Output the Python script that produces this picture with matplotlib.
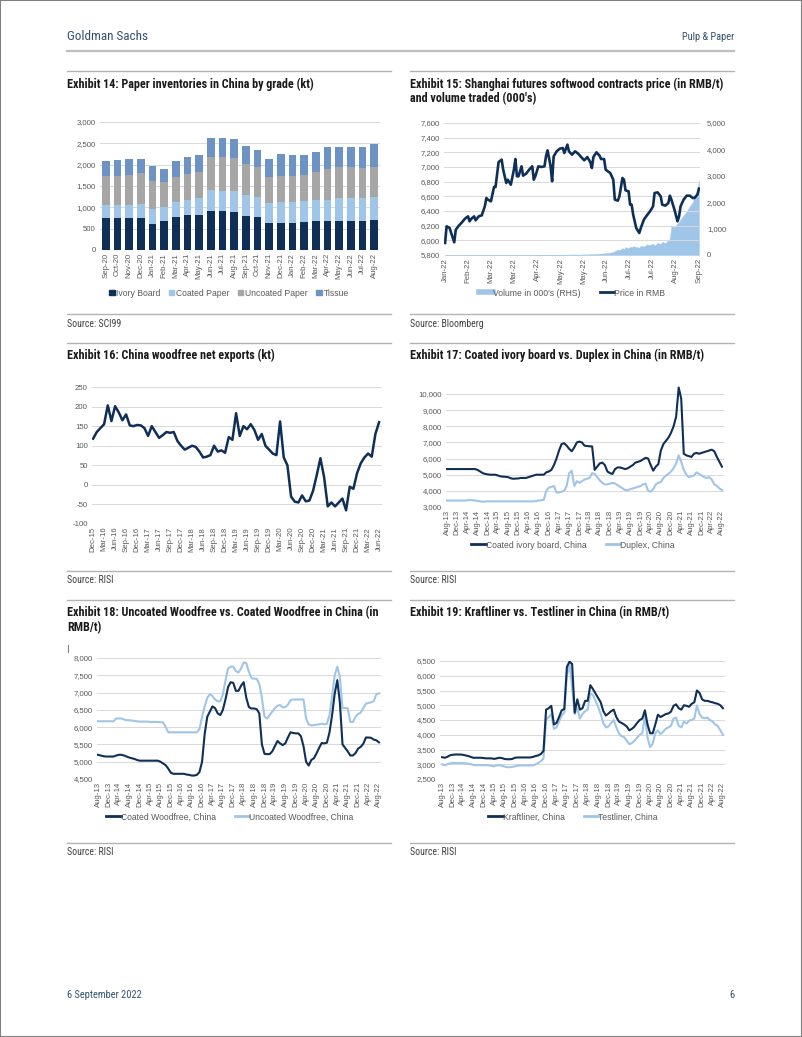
import matplotlib
matplotlib.use('Agg')
import matplotlib.pyplot as plt
from matplotlib.lines import Line2D
from matplotlib.patches import Patch, Rectangle

# ---------------- DATA ----------------
# Exhibit 14 (kt), Sep-20 .. Aug-22
ex14_months = ['Sep-20', 'Oct-20', 'Nov-20', 'Dec-20', 'Jan-21', 'Feb-21', 'Mar-21', 'Apr-21',
               'May-21', 'Jun-21', 'Jul-21', 'Aug-21', 'Sep-21', 'Oct-21', 'Nov-21', 'Dec-21',
               'Jan-22', 'Feb-22', 'Mar-22', 'Apr-22', 'May-22', 'Jun-22', 'Jul-22', 'Aug-22']
ivory_board = [746, 746, 746, 746, 620, 690, 785, 816, 816, 918, 903, 879,
               800, 777, 644, 628, 644, 659, 690, 675, 690, 683, 690, 706]
coated_paper = [314, 314, 314, 329, 338, 307, 338, 362, 401, 495, 486, 495,
                487, 455, 455, 487, 471, 495, 488, 503, 527, 534, 527, 534]
uncoated_paper = [667, 683, 698, 730, 667, 589, 588, 596, 612, 769, 785, 785,
                  738, 707, 612, 628, 628, 604, 643, 722, 738, 722, 706, 707]
tissue = [369, 361, 377, 338, 337, 306, 385, 408, 408, 448, 440, 439,
          416, 400, 424, 502, 479, 464, 479, 510, 455, 479, 487, 534]

# Exhibit 15: trading-day index, price (RMB/t), volume (000's)
ex15_labels = ['Jan-22', 'Feb-22', 'Mar-22', 'Mar-22', 'Apr-22', 'May-22',
               'May-22', 'Jun-22', 'Jul-22', 'Jul-22', 'Aug-22', 'Sep-22']
ex15_day = [0, 1, 3, 4, 6, 7, 9, 11, 13, 15, 16, 17, 19, 20, 22, 24, 26, 27, 28, 30,
            32, 33, 35, 37, 38, 40, 41, 43, 45, 46, 47, 48, 50, 51, 53, 55, 57, 58, 59, 61,
            63, 65, 66, 67, 68, 69, 70, 71, 73, 75, 77, 78, 80, 81, 83, 85, 87, 89, 91, 93,
            95, 96, 97, 99, 101, 102, 104, 105, 108, 110, 111, 113, 114, 116, 117, 118, 120, 121, 122, 123,
            125, 127, 128, 130, 132, 134, 136, 137, 139, 141, 142, 144, 146, 147, 148, 150, 152, 153, 154, 156,
            158, 160, 162, 163, 165, 166]
ex15_price = [5964, 6191, 6168, 6100, 5973, 6145, 6200, 6245, 6295, 6327,
              6259, 6290, 6327, 6273, 6327, 6341, 6464, 6577, 6555, 6532,
              6727, 6727, 7068, 7100, 6964, 6782, 6827, 6759, 6964, 7109,
              6873, 6873, 7009, 6882, 6909, 6964, 7009, 6827, 6873, 7009,
              7000, 7009, 7145, 7227, 7123, 7009, 6805, 7145, 7214, 7250,
              7259, 7191, 7305, 7214, 7168, 7214, 7182, 7136, 7091, 7136,
              7064, 6986, 7136, 7200, 7155, 7109, 7109, 6964, 6918, 6827,
              6555, 6541, 6600, 6850, 6827, 6682, 6668, 6486, 6486, 6350,
              6168, 6100, 6168, 6282, 6341, 6395, 6464, 6645, 6654, 6600,
              6486, 6473, 6509, 6609, 6555, 6418, 6259, 6327, 6464, 6555,
              6609, 6609, 6577, 6577, 6623, 6705]
ex15_volume = [0, 0, 0, 0, 0, 0, 0, 0, 0, 0,
               0, 0, 0, 0, 0, 0, 0, 0, 0, 0,
               0, 0, 0, 0, 0, 0, 0, 0, 0, 0,
               0, 0, 2, 0, 2, 0, 3, 0, 3, 4,
               5, 5, 8, 5, 8, 10, 8, 10, 12, 10,
               15, 12, 15, 15, 18, 20, 15, 20, 25, 20,
               30, 25, 35, 40, 45, 50, 60, 70, 90, 110,
               150, 200, 180, 260, 220, 300, 250, 320, 280, 330,
               300, 280, 350, 320, 400, 380, 430, 350, 460, 420,
               500, 450, 560, 620, 1100, 1050, 1200, 1250, 1350, 1500,
               1650, 1850, 2000, 2200, 2400, 2850]

# Exhibit 16: China woodfree net exports (kt), monthly Dec-15 .. Jun-22
ex16_net_exports = [118,
                    135, 145, 155, 203, 163, 201, 185, 165, 180, 152, 150, 153,
                    152, 145, 125, 150, 135, 120, 127, 135, 133, 135, 112, 100,
                    90, 95, 100, 97, 85, 70, 72, 76, 100, 85, 88, 82,
                    122, 115, 183, 125, 150, 142, 155, 140, 115, 130, 100, 90,
                    80, 76, 162, 70, 50, -30, -43, -45, -27, -42, -40, -15,
                    25, 68, 20, -55, -45, -55, -45, -35, -65, -5, -10, 30,
                    55, 70, 80, 72, 130, 160]

# Exhibit 17: RMB/t, monthly Aug-13 .. Aug-22
coated_ivory = [5350, 5350, 5350, 5350, 5350,
                5350, 5350, 5350, 5350, 5350, 5350, 5350, 5300, 5200, 5100, 5050, 5020,
                5000, 5000, 5000, 4950, 4900, 4880, 4870, 4850, 4780, 4750, 4760, 4770,
                4800, 4800, 4800, 4850, 4900, 4950, 5000, 5000, 5000, 5000, 5150, 5200,
                5300, 5600, 6000, 6500, 6900, 6950, 6800, 6600, 6450, 6700, 7000, 7050,
                7000, 6800, 6780, 6760, 6750, 5300, 5500, 5700, 5750, 5600, 5200, 5100,
                5050, 5350, 5450, 5450, 5400, 5350, 5400, 5500, 5600, 5750, 5800, 5850,
                5950, 6050, 6000, 5600, 5250, 5500, 5650, 6500, 6900, 7100, 7300, 7600,
                8000, 8600, 10400, 9700, 6300, 6200, 6150, 6100, 6300, 6350, 6300, 6350,
                6400, 6450, 6500, 6550, 6450, 6100, 5800, 5500]
duplex = [3400, 3400, 3400, 3400, 3400,
          3400, 3400, 3400, 3420, 3430, 3420, 3400, 3380, 3350, 3330, 3340, 3350,
          3350, 3350, 3350, 3350, 3350, 3350, 3350, 3350, 3350, 3350, 3350, 3350,
          3350, 3350, 3350, 3350, 3350, 3350, 3370, 3400, 3420, 3450, 4000, 4200,
          4250, 4300, 3900, 3900, 3950, 4000, 4300, 5100, 5250, 4300, 4600, 4500,
          4600, 4700, 4750, 4800, 5100, 5050, 4850, 4650, 4500, 4400, 4400, 4450,
          4500, 4450, 4350, 4250, 4150, 4050, 4050, 4100, 4150, 4200, 4250, 4300,
          4400, 4450, 4000, 3950, 4100, 4400, 4500, 4550, 4800, 4950, 5050, 5200,
          5400, 5700, 6200, 5800, 5300, 5000, 4850, 4900, 4950, 5150, 5050, 4950,
          4850, 4800, 4850, 4700, 4400, 4300, 4150, 4050]

# Exhibit 18: RMB/t, monthly Aug-13 .. Aug-22
coated_woodfree = [5200, 5180, 5160, 5150, 5150,
                   5150, 5150, 5180, 5200, 5200, 5180, 5150, 5120, 5100, 5080, 5050, 5030,
                   5030, 5030, 5030, 5030, 5030, 5030, 5030, 5000, 4950, 4900, 4800, 4680,
                   4650, 4650, 4650, 4650, 4650, 4630, 4620, 4600, 4600, 4620, 4700, 5000,
                   5800, 6300, 6450, 6600, 6550, 6400, 6350, 6500, 6800, 7160, 7300, 7280,
                   7050, 7050, 7200, 7300, 6850, 6580, 6540, 6540, 6520, 6400, 5500, 5230,
                   5220, 5220, 5300, 5450, 5600, 5530, 5480, 5530, 5700, 5850, 5830, 5820,
                   5820, 5740, 5450, 5000, 4890, 5050, 5100, 5240, 5400, 5540, 5530, 5550,
                   5850, 6350, 6970, 7360, 6700, 5500, 5400, 5300, 5180, 5180, 5250, 5380,
                   5430, 5520, 5700, 5700, 5690, 5640, 5620, 5560]
uncoated_woodfree = [6170, 6170, 6170, 6170, 6170,
                     6170, 6170, 6250, 6250, 6250, 6220, 6200, 6200, 6190, 6180, 6170, 6160,
                     6160, 6160, 6160, 6150, 6150, 6150, 6150, 6140, 6140, 6000, 5850, 5850,
                     5850, 5850, 5850, 5850, 5850, 5850, 5850, 5850, 5850, 5850, 5950, 6300,
                     6600, 6850, 6950, 6900, 6800, 6750, 6750, 6950, 7350, 7700, 7750, 7750,
                     7620, 7580, 7700, 7870, 7850, 7600, 7420, 7400, 7400, 7250, 6850, 6300,
                     6250, 6350, 6450, 6550, 6620, 6640, 6570, 6580, 6650, 6780, 6800, 6800,
                     6800, 6800, 6800, 6250, 6080, 6050, 6060, 6070, 6080, 6100, 6080, 6100,
                     6350, 6900, 7500, 7750, 7450, 6550, 6550, 6550, 6150, 6150, 6300, 6380,
                     6420, 6550, 6680, 6700, 6720, 6750, 6950, 6980]

# Exhibit 19: RMB/t, monthly Aug-13 .. Aug-22
kraftliner = [3240, 3220, 3250, 3300, 3320,
              3330, 3330, 3330, 3320, 3300, 3280, 3250, 3220, 3220, 3220, 3220, 3210,
              3200, 3200, 3200, 3180, 3200, 3220, 3210, 3180, 3170, 3170, 3180, 3220,
              3230, 3230, 3230, 3230, 3230, 3230, 3250, 3280, 3300, 3350, 3450, 4850,
              4900, 4980, 4350, 4400, 4600, 4830, 4870, 6300, 6480, 6400, 4750, 5200,
              4850, 4900, 5150, 5150, 5680, 5550, 5400, 5250, 5100, 4800, 4650, 4720,
              4800, 4850, 4600, 4450, 4400, 4350, 4280, 4150, 4200, 4280, 4400, 4500,
              4550, 4830, 4350, 4050, 4050, 4350, 4680, 4600, 4650, 4700, 4720, 4780,
              4980, 5030, 4900, 4850, 5000, 4980, 4950, 5050, 5100, 5500, 5420, 5200,
              5150, 5150, 5120, 5100, 5070, 5050, 5000, 4900]
testliner = [3000, 2960, 3000, 3030, 3040,
             3040, 3040, 3040, 3040, 3030, 3020, 3000, 2980, 2970, 2970, 2970, 2970,
             2970, 2960, 2950, 2930, 2960, 2970, 2950, 2920, 2900, 2900, 2910, 2930,
             2950, 2960, 2960, 2960, 2960, 2960, 2960, 3000, 3050, 3100, 3200, 4500,
             4600, 4700, 4200, 4250, 4450, 4650, 4750, 6000, 6400, 5600, 4700, 4900,
             4550, 4700, 4800, 4850, 5400, 5350, 5150, 4950, 4700, 4400, 4250, 4280,
             4400, 4500, 4250, 4050, 3950, 3920, 3800, 3680, 3720, 3800, 3900, 4000,
             4050, 4650, 3900, 3580, 3700, 4050, 4150, 4020, 4100, 4200, 4250, 4300,
             4550, 4580, 4300, 4250, 4450, 4380, 4480, 4500, 4550, 4990, 4700, 4580,
             4560, 4580, 4500, 4450, 4350, 4300, 4150, 4000]

# ---------------- STYLE ----------------
W, H = 802, 1037
DARK = '#0f2f57'
LIGHT = '#9fc5e8'
GRAY_BAR = '#a6a6a6'
TISSUE = '#6d93c4'
GRID = '#d9d9d9'
TICK = '#595959'
TITLE_C = '#1a1a1a'
HEAD_C = '#34506f'
RULE = '#b3b3b3'
NARROW = ['Roboto Condensed', 'Barlow Semi Condensed', 'DejaVu Sans']
TFS = 5.6

plt.rcParams['font.family'] = ['Liberation Sans', 'DejaVu Sans']
fig = plt.figure(figsize=(W / 100, H / 100), dpi=100)
fig.patch.set_facecolor('white')


def ax_px(x0, y0, x1, y1):
    return fig.add_axes([x0 / W, 1 - y1 / H, (x1 - x0) / W, (y1 - y0) / H])


def ftext(x, y, s, **kw):
    fig.text(x / W, 1 - y / H, s, **kw)


def hline(x0, x1, y, color=RULE, lw=1.0):
    fig.add_artist(Line2D([x0 / W, x1 / W], [1 - y / H, 1 - y / H], color=color, lw=lw))


MON = ['Jan', 'Feb', 'Mar', 'Apr', 'May', 'Jun', 'Jul', 'Aug', 'Sep', 'Oct', 'Nov', 'Dec']


def months(y, m, n):
    out = []
    for i in range(n):
        k = m - 1 + i
        out.append(f"{MON[k % 12]}-{(y + k // 12) % 100:02d}")
    return out


def style(ax, yticks, xticks, xlabels):
    for s in ax.spines.values():
        s.set_visible(False)
    ax.set_yticks(yticks)
    ax.set_yticklabels([f"{v:,}" for v in yticks], fontsize=TFS, color=TICK)
    ax.yaxis.grid(True, color=GRID, lw=0.7)
    ax.set_axisbelow(True)
    ax.set_xticks(xticks)
    ax.set_xticklabels(xlabels, rotation=90, fontsize=TFS, color=TICK)
    ax.tick_params(axis='both', length=0)
    ax.tick_params(axis='y', pad=3)
    ax.tick_params(axis='x', pad=2)


def legend(ax, handles, labels, cx, cy, **kw):
    opts = dict(loc='center', bbox_to_anchor=(cx / W, 1 - cy / H), bbox_transform=fig.transFigure,
                ncol=len(handles), frameon=False, prop={'size': 6.2}, handlelength=1.7,
                handletextpad=0.0, columnspacing=2.2, borderpad=0, labelcolor=TICK)
    opts.update(kw)
    ax.legend(handles, labels, **opts)


# ---------------- PAGE ----------------
fig.add_artist(Rectangle((0, 0), 1, 1, transform=fig.transFigure, fill=False, ec='#808080', lw=1.5))
ftext(67, 37, 'Goldman Sachs', fontsize=9.5, color=HEAD_C, family=NARROW, va='center')
ftext(734, 37, 'Pulp & Paper', fontsize=7.5, color=HEAD_C, family=NARROW, va='center', ha='right')
hline(67, 734, 51, color='#bfbfbf', lw=1.6)
ftext(67, 995, '6 September 2022', fontsize=7.5, color=HEAD_C, family=NARROW, va='center')
ftext(734, 995, '6', fontsize=7.5, color=HEAD_C, family=NARROW, va='center', ha='right')
fig.add_artist(Line2D([67.5 / W, 67.5 / W], [1 - 645 / H, 1 - 652 / H], color='#808080', lw=0.8))

LX0, LX1, RX0, RX1 = 67, 391, 410, 734
for y in (71, 343, 600):
    hline(LX0, LX1, y)
    hline(RX0, RX1, y)
for y in (314, 571, 843):
    hline(LX0, LX1, y)
    hline(RX0, RX1, y)

tkw = dict(fontsize=8.7, fontweight='bold', color=TITLE_C, family=NARROW, va='center')
ftext(67, 84, 'Exhibit 14: Paper inventories in China by grade (kt)', **tkw)
ftext(410, 84, 'Exhibit 15: Shanghai futures softwood contracts price (in RMB/t)', **tkw)
ftext(410, 99, "and volume traded (000's)", **tkw)
ftext(67, 355, 'Exhibit 16: China woodfree net exports (kt)', **tkw)
ftext(410, 355, 'Exhibit 17: Coated ivory board vs. Duplex in China (in RMB/t)', **tkw)
ftext(67, 613, 'Exhibit 18: Uncoated Woodfree vs. Coated Woodfree in China (in', **tkw)
ftext(67, 628, 'RMB/t)', **tkw)
ftext(410, 613, 'Exhibit 19: Kraftliner vs. Testliner in China (in RMB/t)', **tkw)

skw = dict(fontsize=7, color='#404040', family=NARROW, va='center')
ftext(67, 324, 'Source: SCI99', **skw)
ftext(410, 324, 'Source: Bloomberg', **skw)
ftext(67, 580, 'Source: RISI', **skw)
ftext(410, 580, 'Source: RISI', **skw)
ftext(67, 852, 'Source: RISI', **skw)
ftext(410, 852, 'Source: RISI', **skw)

# ---------------- Exhibit 14 ----------------
ax = ax_px(100, 122, 380, 250)
x = list(range(len(ex14_months)))
b1 = [a for a in ivory_board]
b2 = [a + b for a, b in zip(b1, coated_paper)]
b3 = [a + b for a, b in zip(b2, uncoated_paper)]
ax.bar(x, ivory_board, width=0.68, color=DARK)
ax.bar(x, coated_paper, bottom=b1, width=0.68, color=LIGHT)
ax.bar(x, uncoated_paper, bottom=b2, width=0.68, color=GRAY_BAR)
ax.bar(x, tissue, bottom=b3, width=0.68, color=TISSUE)
ax.set_xlim(-0.5, len(x) - 0.5)
ax.set_ylim(0, 3000)
style(ax, list(range(0, 3001, 500)), x, ex14_months)
hs = [Patch(color=c) for c in (DARK, LIGHT, GRAY_BAR, TISSUE)]
legend(ax, hs, ['Ivory Board', 'Coated Paper', 'Uncoated Paper', 'Tissue'], 229, 293,
       handlelength=0.6, handleheight=0.6, handletextpad=0.2, columnspacing=1.0)

# ---------------- Exhibit 15 ----------------
ax = ax_px(444, 123, 700, 255)
ax2 = ax.twinx()
ax2.fill_between(ex15_day, ex15_volume, 0, color=LIGHT, lw=0.3)
ax.plot(ex15_day, ex15_price, color=DARK, lw=1.9, solid_joinstyle='round')
ax.set_zorder(ax2.get_zorder() + 1)
ax.patch.set_visible(False)
ax.set_xlim(-0.7, 166.7)
ax.set_ylim(5800, 7600)
ax2.set_ylim(0, 5000)
n_lab = len(ex15_labels)
xt = [ex15_day[-1] * i / (n_lab - 1) for i in range(n_lab)]
style(ax, list(range(5800, 7601, 200)), xt, ex15_labels)
for s in ax2.spines.values():
    s.set_visible(False)
ax2.set_yticks(list(range(0, 5001, 1000)))
ax2.set_yticklabels([f"{v:,}" for v in range(0, 5001, 1000)], fontsize=TFS, color=TICK)
ax2.tick_params(length=0, pad=5)
hs = [Line2D([], [], color=LIGHT, lw=4), Line2D([], [], color=DARK, lw=2)]
legend(ax, hs, ["Volume in 000's (RHS)", 'Price in RMB'], 572, 293)

# ---------------- Exhibit 16 ----------------
ax = ax_px(92, 387, 382, 524)
lab16 = months(2015, 12, len(ex16_net_exports))
x = list(range(len(ex16_net_exports)))
ax.plot(x, ex16_net_exports, color=DARK, lw=1.8, solid_joinstyle='round')
ax.set_xlim(-0.3, len(x) - 1 + 0.8)
ax.set_ylim(-100, 250)
style(ax, list(range(-100, 251, 50)), x[::3], lab16[::3])

# ---------------- Exhibit 17 ----------------
ax = ax_px(446, 394, 724, 507)
lab = months(2013, 8, len(coated_ivory))
x = list(range(len(coated_ivory)))
ax.plot(x, duplex, color=LIGHT, lw=1.5, clip_on=False)
ax.plot(x, coated_ivory, color=DARK, lw=1.5, clip_on=False)
ax.set_xlim(-0.4, len(x) - 1 + 0.8)
ax.set_ylim(3000, 10000)
style(ax, list(range(3000, 10001, 1000)), x[::4], lab[::4])
hs = [Line2D([], [], color=DARK, lw=2), Line2D([], [], color=LIGHT, lw=2)]
legend(ax, hs, ['Coated ivory board, China', 'Duplex, China'], 573, 545)

# ---------------- Exhibit 18 ----------------
ax = ax_px(97, 658, 381, 779)
lab = months(2013, 8, len(coated_woodfree))
x = list(range(len(coated_woodfree)))
ax.plot(x, uncoated_woodfree, color=LIGHT, lw=1.5)
ax.plot(x, coated_woodfree, color=DARK, lw=1.5)
ax.set_xlim(-0.4, len(x) - 1 + 0.8)
ax.set_ylim(4500, 8000)
style(ax, list(range(4500, 8001, 500)), x[::4], lab[::4])
hs = [Line2D([], [], color=DARK, lw=2), Line2D([], [], color=LIGHT, lw=2)]
legend(ax, hs, ['Coated Woodfree, China', 'Uncoated Woodfree, China'], 230, 817)

# ---------------- Exhibit 19 ----------------
ax = ax_px(440, 661, 725, 779)
lab = months(2013, 8, len(kraftliner))
x = list(range(len(kraftliner)))
ax.plot(x, testliner, color=LIGHT, lw=1.5)
ax.plot(x, kraftliner, color=DARK, lw=1.5)
ax.set_xlim(-0.8, len(x) - 1 + 0.8)
ax.set_ylim(2500, 6500)
style(ax, list(range(2500, 6501, 500)), x[::4], lab[::4])
hs = [Line2D([], [], color=DARK, lw=2), Line2D([], [], color=LIGHT, lw=2)]
legend(ax, hs, ['Kraftliner, China', 'Testliner, China'], 573, 817)

fig.savefig('out.png', dpi=100, facecolor='white')
